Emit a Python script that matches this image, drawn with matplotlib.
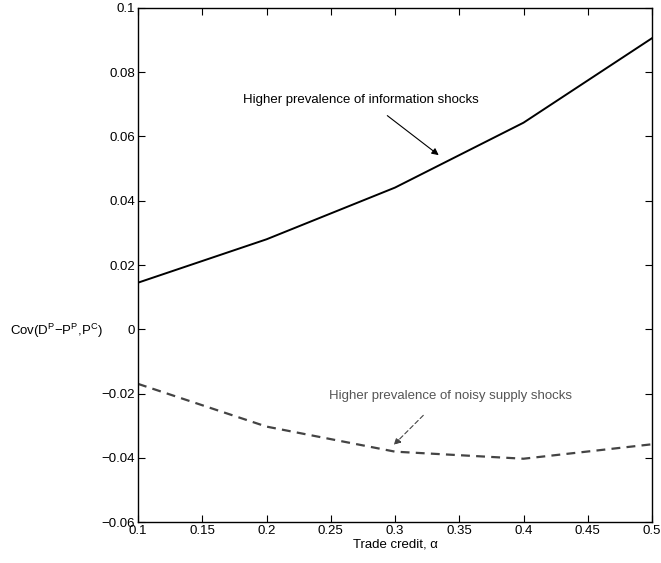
"""Covariance vs trade credit for two shock regimes."""

import matplotlib
matplotlib.use("Agg")
import matplotlib.pyplot as plt
from matplotlib.ticker import FuncFormatter, MultipleLocator

plt.rcParams["font.family"] = ["Liberation Sans", "DejaVu Sans"]
plt.rcParams["mathtext.fontset"] = "custom"
plt.rcParams["mathtext.rm"] = "Liberation Sans"
plt.rcParams["mathtext.it"] = "Liberation Sans"

alpha = [0.1, 0.2, 0.3, 0.4, 0.5]
cov_info = [0.0145, 0.0280, 0.0441, 0.0643, 0.0906]
cov_noise = [-0.0170, -0.0303, -0.0381, -0.0403, -0.0358]

info_label = "Higher prevalence of information shocks"
noise_label = "Higher prevalence of noisy supply shocks"

FS = 9.5

fig = plt.figure(figsize=(6.61, 5.63), dpi=100)
ax = fig.add_axes([0.2088, 0.0728, 0.7776, 0.913])

ax.plot(alpha, cov_info, "-", color="black", lw=1.4)
ax.plot(alpha, cov_noise, "--", color="#444444", lw=1.6, dashes=(4, 2.8))

ax.text(0.182, 0.0714, info_label, fontsize=FS, va="center", ha="left")
ax.annotate("", xy=(0.334, 0.0542), xytext=(0.294, 0.0665),
            arrowprops=dict(arrowstyle="-|>", color="black", lw=0.8,
                            shrinkA=0, shrinkB=0, mutation_scale=10))
ax.text(0.249, -0.0209, noise_label, fontsize=FS, va="center", ha="left",
        color="#555555")
ax.annotate("", xy=(0.299, -0.0360), xytext=(0.322, -0.0268),
            arrowprops=dict(arrowstyle="-|>", color="#444444", lw=0.8,
                            linestyle=(0, (4, 2.5)), shrinkA=0, shrinkB=0,
                            mutation_scale=10))

ax.set_xlim(0.1, 0.5)
ax.set_ylim(-0.06, 0.1)
ax.xaxis.set_major_locator(MultipleLocator(0.05))
ax.yaxis.set_major_locator(MultipleLocator(0.02))
fmt = FuncFormatter(lambda v, p: ("%g" % round(v, 4)).replace("-", "\u2212"))
ax.xaxis.set_major_formatter(fmt)
ax.yaxis.set_major_formatter(fmt)
ax.tick_params(direction="in", top=True, right=True, labelsize=FS,
               length=5, width=0.8, pad=2)
for s in ax.spines.values():
    s.set_linewidth(1.0)

ax.set_xlabel("Trade credit, α", fontsize=FS, labelpad=1)
ax.set_ylabel(r"Cov(D$^{P}$$\mathrm{-}$P$^{P}$,P$^{C}$)", fontsize=FS, rotation=0,
              ha="right", va="center")
ax.yaxis.set_label_coords(-0.068, 0.372)

fig.savefig("out.png", dpi=100)
